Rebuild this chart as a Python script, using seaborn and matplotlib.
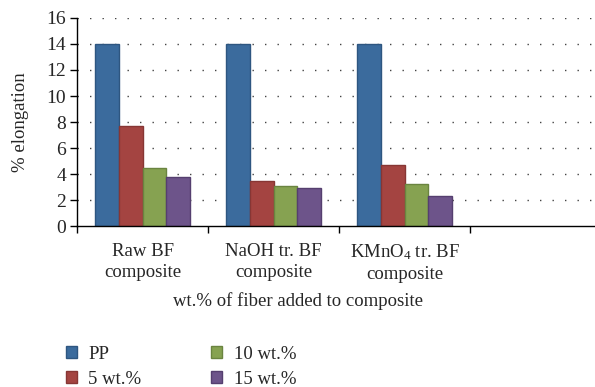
import matplotlib
matplotlib.use("Agg")
import matplotlib.pyplot as plt
import seaborn as sns
import pandas as pd
import numpy as np
from matplotlib.patches import Patch
from matplotlib.ticker import FixedLocator, NullFormatter

categories = ["Raw BF\ncomposite", "NaOH tr. BF\ncomposite", "KMnO$_4$ tr. BF\ncomposite"]
series = ["PP", "5 wt.%", "10 wt.%", "15 wt.%"]
pp = [14.0, 14.0, 14.0]
wt5 = [7.7, 3.5, 4.72]
wt10 = [4.45, 3.05, 3.23]
wt15 = [3.75, 2.9, 2.3]
yticks = [0, 2, 4, 6, 8, 10, 12, 14, 16]

colors = ["#3B6B9D", "#A44441", "#86A251", "#6D548A"]
edges = ["#2E5680", "#873634", "#6A8440", "#553F6F"]

rows = []
for s, vals in zip(series, [pp, wt5, wt10, wt15]):
    for c, v in zip(categories, vals):
        rows.append({"cat": c, "series": s, "val": v})
df = pd.DataFrame(rows)

sns.set_theme(style="white")
plt.rcParams["font.family"] = ["Liberation Serif", "DejaVu Serif"]
plt.rcParams["mathtext.fontset"] = "custom"
plt.rcParams["mathtext.rm"] = "Liberation Serif"
plt.rcParams["mathtext.it"] = "Liberation Serif:italic"

fig = plt.figure(figsize=(5.95, 3.87), dpi=100)
ax = fig.add_axes([0.1294, 0.416, 0.87, 0.5375])

sns.barplot(data=df, x="cat", y="val", hue="series", order=categories,
            hue_order=series, palette=colors, width=0.72, ax=ax,
            saturation=1, legend=False, linewidth=1.0, errorbar=None)

for i, s in enumerate(series):
    for p in ax.containers[i]:
        p.set_edgecolor(edges[i])
        p.set_linewidth(1.0)

ax.set_xlim(-0.5, 3.45)
ax.set_ylim(0, 16)
ax.set_yticks(yticks)
ax.set_yticklabels([str(t) for t in yticks], fontsize=14)
ax.set_xticks(range(len(categories)))
ax.set_xticklabels(categories, fontsize=13.5, linespacing=1.3)
ax.xaxis.set_minor_locator(FixedLocator([-0.5, 0.5, 1.5, 2.5]))
ax.xaxis.set_minor_formatter(NullFormatter())
ax.tick_params(axis="x", which="major", length=0, pad=12)
ax.tick_params(axis="x", which="minor", length=5, width=1, color="black", direction="out", bottom=True)
ax.tick_params(axis="y", length=5, width=1, color="black", direction="out", left=True, pad=3)

ax.grid(False)
for t in yticks[1:]:
    ax.axhline(t, color="#444444", lw=1.0, ls=(0, (1, 8)), zorder=0)
ax.set_axisbelow(True)

for sp in ["top", "right"]:
    ax.spines[sp].set_visible(False)
for sp in ["left", "bottom"]:
    ax.spines[sp].set_color("black")
    ax.spines[sp].set_linewidth(1.0)

ax.set_xlabel("")
ax.set_ylabel("% elongation", fontsize=13.5, labelpad=12)
fig.text(298 / 595, 1 - 301 / 387, "wt.% of fiber added to composite",
         ha="center", va="center", fontsize=13.5)

handles = [Patch(facecolor=colors[i], edgecolor=edges[i], label=series[i]) for i in range(4)]
fig.legend(handles=handles, ncol=2, loc="upper left",
           bbox_to_anchor=(66 / 595, 1 - 346 / 387), frameon=False,
           borderaxespad=0, borderpad=0,
           fontsize=13.5, handlelength=0.6, handleheight=0.6,
           handletextpad=0.6, columnspacing=3.7, labelspacing=0.4)

fig.savefig("out.png", dpi=100)
